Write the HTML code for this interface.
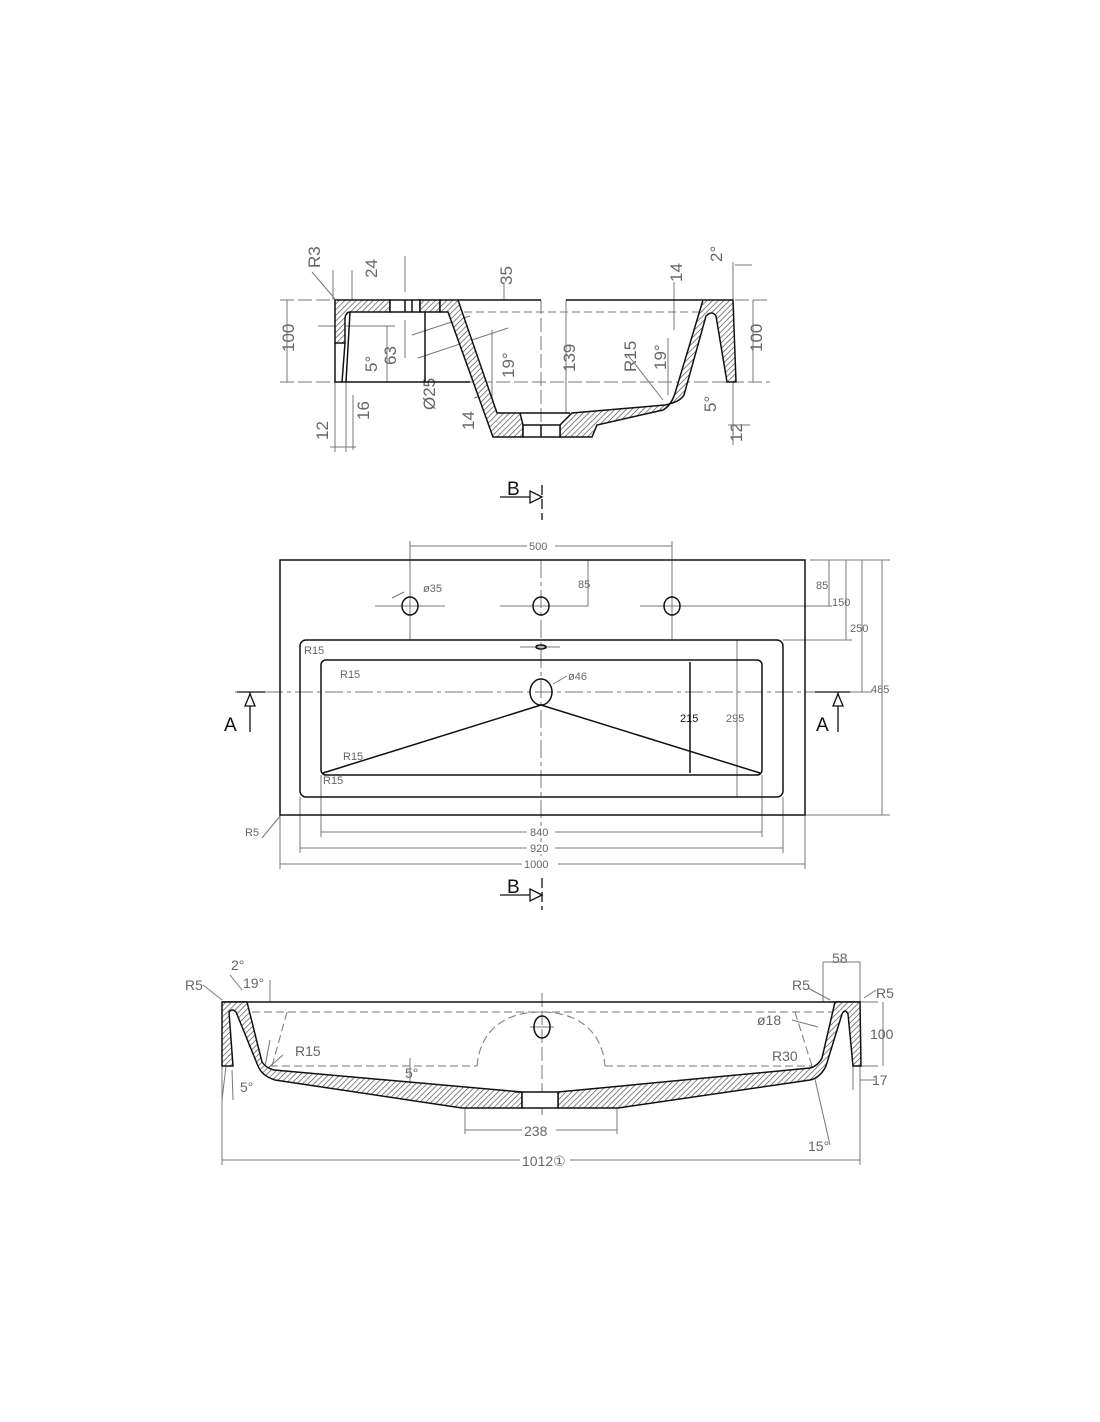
<!DOCTYPE html>
<html><head><meta charset="utf-8"><style>
html,body{margin:0;padding:0;background:#fff;}
svg{display:block;}
text{font-family:"Liberation Sans",sans-serif;fill:#666;}
</style></head><body>
<svg width="1100" height="1422" viewBox="0 0 1100 1422" xmlns="http://www.w3.org/2000/svg">
<defs>
<pattern id="h" patternUnits="userSpaceOnUse" width="4" height="4" patternTransform="rotate(45)">
<rect width="4" height="4" fill="#fff"/><line x1="0" y1="0" x2="0" y2="4" stroke="#444" stroke-width="1.3"/>
</pattern>
</defs>

<!-- ===== SECTION A (top) ===== -->
<g stroke="#777" stroke-width="1" fill="none">
<line x1="280" y1="300" x2="335" y2="300" stroke-dasharray="14,4"/>
<line x1="735" y1="300" x2="770" y2="300" stroke-dasharray="14,4"/>
<line x1="280" y1="382" x2="770" y2="382" stroke-dasharray="14,4"/>
<line x1="440" y1="312" x2="700" y2="312" stroke-dasharray="8,4"/>
<line x1="541" y1="300" x2="541" y2="437" stroke-dasharray="14,4"/>
<line x1="405" y1="256" x2="405" y2="292"/>
<line x1="405" y1="320" x2="405" y2="358"/>
<line x1="287" y1="300" x2="287" y2="382"/>
<text transform="translate(294,352) rotate(-90)" font-size="17" stroke="none">100</text>
<line x1="753" y1="300" x2="753" y2="382"/>
<text transform="translate(762,352) rotate(-90)" font-size="17" stroke="none">100</text>
<line x1="566" y1="300" x2="566" y2="413"/>
<text transform="translate(575,372) rotate(-90)" font-size="17" stroke="none">139</text>
<line x1="504" y1="282" x2="504" y2="300"/>
<text transform="translate(512,285) rotate(-90)" font-size="17" stroke="none">35</text>
<line x1="674" y1="282" x2="674" y2="330"/>
<text transform="translate(682,282) rotate(-90)" font-size="17" stroke="none">14</text>
<line x1="387" y1="326" x2="387" y2="382"/>
<line x1="318" y1="326" x2="395" y2="326"/>
<text transform="translate(396,365) rotate(-90)" font-size="17" stroke="none">63</text>
<text transform="translate(377,372) rotate(-90)" font-size="17" stroke="none">5°</text>
<text transform="translate(320,268) rotate(-90)" font-size="17" stroke="none">R3</text>
<line x1="312" y1="272" x2="335" y2="299"/>
<line x1="333" y1="270" x2="333" y2="300"/>
<line x1="352" y1="270" x2="352" y2="300"/>
<text transform="translate(377,278) rotate(-90)" font-size="17" stroke="none">24</text>
<line x1="335" y1="382" x2="335" y2="452"/>
<line x1="346" y1="382" x2="346" y2="452"/>
<line x1="353" y1="395" x2="353" y2="450"/>
<line x1="330" y1="447" x2="356" y2="447"/>
<text transform="translate(328,440) rotate(-90)" font-size="17" stroke="none">12</text>
<text transform="translate(369,420) rotate(-90)" font-size="17" stroke="none">16</text>
<text transform="translate(435,410) rotate(-90)" font-size="17" stroke="none">Ø25</text>
<line x1="412" y1="335" x2="470" y2="316"/>
<line x1="418" y1="358" x2="508" y2="328"/>
<text transform="translate(474,430) rotate(-90)" font-size="17" stroke="none">14</text>
<line x1="474" y1="398" x2="490" y2="393"/>
<text transform="translate(514,378) rotate(-90)" font-size="17" stroke="none">19°</text>
<line x1="492" y1="330" x2="492" y2="412"/>
<text transform="translate(636,372) rotate(-90)" font-size="17" stroke="none">R15</text>
<line x1="628" y1="355" x2="663" y2="400"/>
<text transform="translate(666,370) rotate(-90)" font-size="17" stroke="none">19°</text>
<line x1="668" y1="338" x2="668" y2="395"/>
<text transform="translate(722,262) rotate(-90)" font-size="17" stroke="none">2°</text>
<line x1="733" y1="262" x2="733" y2="300"/>
<line x1="735" y1="265" x2="752" y2="265"/>
<text transform="translate(716,412) rotate(-90)" font-size="17" stroke="none">5°</text>
<text transform="translate(742,442) rotate(-90)" font-size="17" stroke="none">12</text>
<line x1="733" y1="382" x2="733" y2="445"/>
<line x1="728" y1="425" x2="750" y2="425"/>
</g>
<g stroke="#111" stroke-width="1.5">
<path d="M335,300 H390 V312 H350 Q346,312 345,318 V343 H335 Z" fill="url(#h)"/>
<path d="M345,343 L342,382 M350,312 L346,382" fill="none"/>
<path d="M335,343 V382 H470" fill="none"/>
<rect x="390" y="300" width="30" height="12" fill="#fff"/>
<line x1="405" y1="300" x2="405" y2="312"/><line x1="412" y1="300" x2="412" y2="312"/>
<line x1="425" y1="300" x2="425" y2="382"/>
<path d="M420,300 H440 V312 H420 Z" fill="url(#h)"/>
<path d="M440,300 H458 L497,413 H520 L523,425 V437 H493 L448,312 H440 Z" fill="url(#h)"/>
<path d="M560,437 H592 L597,425 L663,410 Q672,405 676,390 L703,300 H733 L736,382 H727 L716,316 Q712,310 706,316 L684,395 Q680,402 665,405 L572,413 L560,425 Z" fill="url(#h)"/>
<rect x="523" y="425" width="37" height="12" fill="#fff"/>
<line x1="541" y1="425" x2="541" y2="437"/>
<line x1="520" y1="413" x2="570" y2="413"/>
<line x1="458" y1="300" x2="541" y2="300"/>
<line x1="566" y1="300" x2="703" y2="300"/>
</g>

<g stroke="#111" stroke-width="1.3" fill="#fff">
<line x1="500" y1="497" x2="532" y2="497"/>
<path d="M530,491 L542,497 L530,503 Z"/>
<line x1="542" y1="485" x2="542" y2="520" stroke-dasharray="10,4"/>
<line x1="500" y1="895" x2="532" y2="895"/>
<path d="M530,889 L542,895 L530,901 Z"/>
<line x1="542" y1="878" x2="542" y2="910" stroke-dasharray="10,4"/>
</g>
<text x="507" y="495" font-size="19" style="fill:#111">B</text>
<text x="507" y="893" font-size="19" style="fill:#111">B</text>

<g stroke="#777" stroke-width="1" fill="none">
<line x1="235" y1="692" x2="860" y2="692" stroke-dasharray="18,4,4,4"/>
<line x1="541" y1="560" x2="541" y2="870" stroke-dasharray="18,4,4,4"/>
<line x1="410" y1="541" x2="410" y2="640"/><line x1="672" y1="541" x2="672" y2="640"/>
<line x1="410" y1="546" x2="672" y2="546"/>
<line x1="375" y1="606" x2="445" y2="606"/><line x1="500" y1="606" x2="588" y2="606"/><line x1="640" y1="606" x2="705" y2="606"/>
<line x1="588" y1="560" x2="588" y2="606"/>
<line x1="520" y1="647" x2="560" y2="647"/>
<line x1="810" y1="560" x2="890" y2="560"/>
<line x1="705" y1="606" x2="832" y2="606"/>
<line x1="783" y1="640" x2="852" y2="640"/>
<line x1="805" y1="692" x2="872" y2="692"/>
<line x1="805" y1="815" x2="890" y2="815"/>
<line x1="728" y1="640" x2="743" y2="640"/>
<line x1="728" y1="797" x2="743" y2="797"/>
<line x1="829" y1="560" x2="829" y2="606"/>
<line x1="846" y1="560" x2="846" y2="640"/>
<line x1="862" y1="560" x2="862" y2="692"/>
<line x1="882" y1="560" x2="882" y2="815"/>
<line x1="737" y1="640" x2="737" y2="797"/>
<line x1="321" y1="775" x2="321" y2="837"/><line x1="762" y1="775" x2="762" y2="837"/>
<line x1="300" y1="797" x2="300" y2="853"/><line x1="783" y1="797" x2="783" y2="853"/>
<line x1="280" y1="815" x2="280" y2="869"/><line x1="805" y1="815" x2="805" y2="869"/>
<line x1="321" y1="832" x2="762" y2="832"/>
<line x1="300" y1="848" x2="783" y2="848"/>
<line x1="280" y1="864" x2="805" y2="864"/>
<line x1="262" y1="838" x2="281" y2="815"/>
<line x1="392" y1="598" x2="404" y2="592"/>
<line x1="553" y1="684" x2="567" y2="676"/>
</g>
<g font-size="11" stroke="none">
<rect x="527" y="540" width="28" height="12" fill="#fff"/><text x="529" y="550">500</text>
<text x="423" y="592">ø35</text>
<text x="578" y="588">85</text>
<text x="816" y="589">85</text>
<text x="832" y="606">150</text>
<text x="850" y="632">250</text>
<text x="871" y="693">485</text>
<text x="726" y="722">295</text>
<text x="680" y="722" style="fill:#111">215</text>
<text x="568" y="680">ø46</text>
<text x="304" y="654">R15</text>
<text x="340" y="678">R15</text>
<text x="343" y="760">R15</text>
<text x="323" y="784">R15</text>
<text x="245" y="836">R5</text>
<rect x="527" y="826" width="28" height="12" fill="#fff"/><text x="530" y="836">840</text>
<rect x="527" y="842" width="28" height="12" fill="#fff"/><text x="530" y="852">920</text>
<rect x="522" y="858" width="36" height="12" fill="#fff"/><text x="524" y="868">1000</text>
</g>
<g stroke="#111" stroke-width="1.5" fill="none">
<rect x="280" y="560" width="525" height="255"/>
<rect x="300" y="640" width="483" height="157" rx="6"/>
<rect x="321" y="660" width="441" height="115" rx="5"/>
<ellipse cx="410" cy="606" rx="8" ry="9"/>
<ellipse cx="541" cy="606" rx="8" ry="9"/>
<ellipse cx="672" cy="606" rx="8" ry="9"/>
<ellipse cx="541" cy="647" rx="5" ry="2"/>
<ellipse cx="541" cy="692" rx="11" ry="13"/>
<line x1="541" y1="705" x2="323" y2="773"/>
<line x1="541" y1="705" x2="760" y2="773"/>
<line x1="690" y1="662" x2="690" y2="773"/>
</g>
<g stroke="#777" stroke-width="0.8"><line x1="406" y1="606" x2="414" y2="606"/><line x1="410" y1="602" x2="410" y2="610"/><line x1="668" y1="606" x2="676" y2="606"/><line x1="672" y1="602" x2="672" y2="610"/></g>
<g stroke="#111" stroke-width="1.3" fill="#fff">
<line x1="237" y1="692" x2="265" y2="692"/>
<line x1="250" y1="692" x2="250" y2="732"/>
<path d="M245,706 L250,694 L255,706 Z"/>
<line x1="815" y1="692" x2="850" y2="692"/>
<line x1="838" y1="692" x2="838" y2="732"/>
<path d="M833,706 L838,694 L843,706 Z"/>
</g>
<text x="224" y="731" font-size="19" style="fill:#111">A</text>
<text x="816" y="731" font-size="19" style="fill:#111">A</text>

<g stroke="#777" stroke-width="1" fill="none">
<line x1="240" y1="1012" x2="845" y2="1012" stroke-dasharray="8,4"/>
<line x1="270" y1="1066" x2="477" y2="1066" stroke-dasharray="8,4"/>
<line x1="605" y1="1066" x2="812" y2="1066" stroke-dasharray="8,4"/>
<path d="M477,1066 C480,1030 505,1012 541,1012 C577,1012 602,1030 605,1066" stroke-dasharray="8,4"/>
<line x1="287" y1="1012" x2="272" y2="1066" stroke-dasharray="8,4"/>
<line x1="795" y1="1012" x2="812" y2="1066" stroke-dasharray="8,4"/>
<line x1="542" y1="993" x2="542" y2="1115" stroke-dasharray="14,4"/>
<line x1="530" y1="1027" x2="554" y2="1027"/>
<line x1="222" y1="1002" x2="222" y2="1165"/><line x1="860" y1="1002" x2="860" y2="1165"/>
<line x1="222" y1="1160" x2="860" y2="1160"/>
<line x1="465" y1="1108" x2="465" y2="1134"/><line x1="617" y1="1108" x2="617" y2="1134"/>
<line x1="465" y1="1130" x2="617" y2="1130"/>
<line x1="860" y1="1002" x2="878" y2="1002"/>
<line x1="860" y1="1066" x2="878" y2="1066"/>
<line x1="883" y1="1002" x2="883" y2="1066"/>
<line x1="823" y1="962" x2="823" y2="1002"/>
<line x1="823" y1="962" x2="860" y2="962"/>
<line x1="860" y1="962" x2="860" y2="1002"/>
<line x1="853" y1="1066" x2="853" y2="1090"/><line x1="860" y1="1080" x2="875" y2="1080"/>
<line x1="812" y1="1066" x2="830" y2="1145"/>
<line x1="203" y1="985" x2="222" y2="1000"/>
<line x1="230" y1="975" x2="242" y2="990"/>
<line x1="270" y1="980" x2="270" y2="1002"/>
<line x1="270" y1="1040" x2="265" y2="1066"/>
<line x1="283" y1="1055" x2="268" y2="1068"/>
<line x1="792" y1="1020" x2="818" y2="1027"/>
<line x1="808" y1="988" x2="830" y2="1000"/>
<line x1="864" y1="998" x2="876" y2="990"/>
<line x1="410" y1="1058" x2="410" y2="1090"/>
<line x1="226" y1="1066" x2="222" y2="1100"/>
<line x1="232" y1="1070" x2="233" y2="1100"/>
</g>
<g font-size="14" stroke="none">
<text x="185" y="990">R5</text>
<text x="231" y="970">2°</text>
<text x="243" y="988">19°</text>
<text x="295" y="1056">R15</text>
<text x="405" y="1078">5°</text>
<text x="240" y="1092">5°</text>
<text x="792" y="990">R5</text>
<text x="832" y="963">58</text>
<text x="876" y="998">R5</text>
<text x="757" y="1025">ø18</text>
<text x="870" y="1039">100</text>
<text x="772" y="1061">R30</text>
<text x="872" y="1085">17</text>
<text x="808" y="1151">15°</text>
<rect x="522" y="1124" width="34" height="14" fill="#fff"/><text x="524" y="1136">238</text>
<rect x="520" y="1154" width="50" height="14" fill="#fff"/><text x="522" y="1166">1012①</text>
</g>
<g stroke="#111" stroke-width="1.5">
<line x1="222" y1="1002" x2="860" y2="1002"/>
<path d="M222,1002 H247 L262,1062 Q266,1068 274,1070 L522,1092 V1108 H462 L275,1080 Q262,1076 258,1066 L236,1012 Q232,1008 229,1012 L233,1066 H222 Z" fill="url(#h)"/>
<path d="M558,1092 L810,1068 Q818,1066 822,1058 L835,1002 H860 L861,1066 H853 L848,1014 Q845,1008 842,1014 L826,1066 Q820,1078 810,1080 L618,1108 H558 Z" fill="url(#h)"/>
<rect x="522" y="1092" width="36" height="16" fill="#fff"/>
<line x1="515" y1="1092" x2="522" y2="1092"/>
<ellipse cx="542" cy="1027" rx="8" ry="11" fill="none"/>
</g>
</svg>
</body></html>
